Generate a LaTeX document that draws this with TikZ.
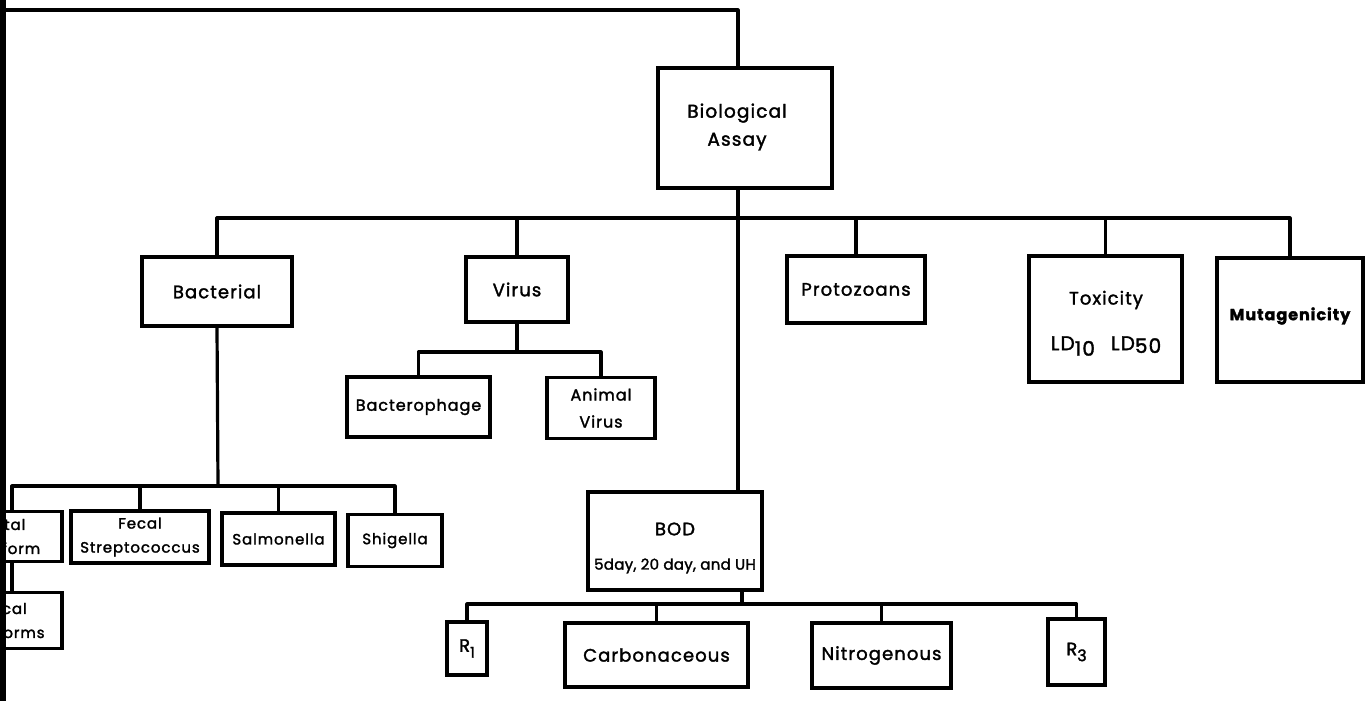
\documentclass[tikz,border=0pt]{standalone}
\usepackage{fontspec}
\setmainfont{Poppins}[LetterSpace=6, FakeBold=1.8]
\newfontfamily\tightfont{Poppins}[LetterSpace=2, FakeBold=1.8]
\begin{document}
\begin{tikzpicture}[x=1pt,y=-1pt,
  box/.style={draw, line width=3.2pt, inner sep=0pt},
  conn/.style={line width=3.2pt, line join=round},
  big/.style={font=\fontsize{18}{28}\selectfont, align=center},
  mid/.style={font=\fontsize{16}{27}\selectfont, align=center},
  sml/.style={font=\fontsize{15}{24}\selectfont, align=center}]
\useasboundingbox (0,0) rectangle (1372,701);
\clip (0,0) rectangle (1372,701);
\fill[white] (0,0) rectangle (1372,701);
\fill[black] (0,0) rectangle (6,701);
% boxes
\node[box, minimum width=174, minimum height=120] (assay) at (745,128) {};
\node[font=\fontsize{18.5}{28}\selectfont, align=center] (assayT) at (737,127) {Biological\\Assay};
\node[box, big, minimum width=150, minimum height=69] (bact) at (217,291.5) {Bacterial};
\node[box, big, minimum width=102, minimum height=65] (virus) at (517,289.5) {Virus};
\node[box, big, minimum width=138, minimum height=67] (proto) at (856,289.5) {Protozoans};
\node[box, minimum width=153, minimum height=126] (tox) at (1105.5,319) {};
\node[big] (toxT) at (1106,300) {Toxicity};
\node[font=\fontsize{20}{24}\selectfont] (ldT) at (1106,346) {LD\raisebox{-0.5ex}{\fontsize{20}{24}\selectfont 10}\hspace{16pt}LD\raisebox{-0.25ex}{\fontsize{20}{24}\selectfont 50}};
\node[box, minimum width=146, minimum height=124] (muta) at (1290,320) {};
\node[font=\fontsize{16}{18}\selectfont\bfseries] (mutaT) at (1290,316) {Mutagenicity};
\node[box, mid, minimum width=143, minimum height=60] (phage) at (418.5,407) {Bacterophage};
\node[box, mid, minimum width=108, minimum height=61] (animal) at (601,408) {Animal\\Virus};
\node[box, sml, minimum width=130, minimum height=50] (total) at (-3,536.5) {\hspace{16pt}Total\\\hspace{16pt}Coliform};
\node[box, sml, minimum width=138, minimum height=52] (fstrep) at (140,537) {Fecal\\Streptococcus};
\node[box, sml, minimum width=113, minimum height=52] (salm) at (278.5,539) {Salmonella};
\node[box, sml, minimum width=94, minimum height=52] (shig) at (395,540.5) {Shigella};
\node[box, sml, minimum width=130, minimum height=56] (fcol) at (-3,620.5) {\hspace{16pt}Fecal\\\hspace{16pt}Coliforms};
\node[box, minimum width=174, minimum height=98] (bod) at (675,541) {};
\node[big] (bodT) at (675,529) {BOD};
\node[font=\tightfont\fontsize{15}{20}\selectfont] (bodT2) at (675,566) {5day, 20 day, and UH};
\node[box, big, minimum width=40, minimum height=53] (r1) at (467,648.5) {R\raisebox{-0.6ex}{\fontsize{15}{18}\selectfont 1}};
\node[box, big, minimum width=183, minimum height=64] (carb) at (656.5,655) {Carbonaceous};
\node[box, big, minimum width=139, minimum height=65] (nitro) at (881.5,655.5) {Nitrogenous};
\node[box, big, minimum width=57, minimum height=66] (r3) at (1076.5,652) {R\raisebox{-0.6ex}{\fontsize{16}{18}\selectfont 3}};
% hubs
\coordinate (tl) at (6,10);
\coordinate (hubA) at (738,218);
\coordinate (hubB) at (218,486);
\coordinate (hubV) at (517,352);
\coordinate (hubR) at (742,604);
% connectors
\draw[conn] (tl) -| ([xshift=-7pt]assay.north);
\draw[conn] ([xshift=-7pt]assay.south) -- (hubA);
\draw[conn] (bact.north) |- (hubA) -| (muta.north);
\draw[conn] (virus.north) -- (virus.north |- hubA);
\draw[conn] (proto.north) -- (proto.north |- hubA);
\draw[conn] (tox.north) -- (tox.north |- hubA);
\draw[conn] (hubA) -- (hubA |- bod.north);
\draw[conn] (virus.south) -- (hubV);
\draw[conn] (phage.north) |- (hubV) -| (animal.north);
\draw[conn] (bact.south) -- (hubB);
\draw[conn] ([xshift=15pt]total.north) |- (hubB) -| (shig.north);
\draw[conn] (fstrep.north) -- (fstrep.north |- hubB);
\draw[conn] (salm.north) -- (salm.north |- hubB);
\draw[conn] ([xshift=15pt]total.south) -- ([xshift=15pt]fcol.north);
\draw[conn] (hubR |- bod.south) -- (hubR);
\draw[conn] (r1.north) |- (hubR) -| (r3.north);
\draw[conn] (carb.north) -- (carb.north |- hubR);
\draw[conn] (nitro.north) -- (nitro.north |- hubR);
\end{tikzpicture}
\end{document}
